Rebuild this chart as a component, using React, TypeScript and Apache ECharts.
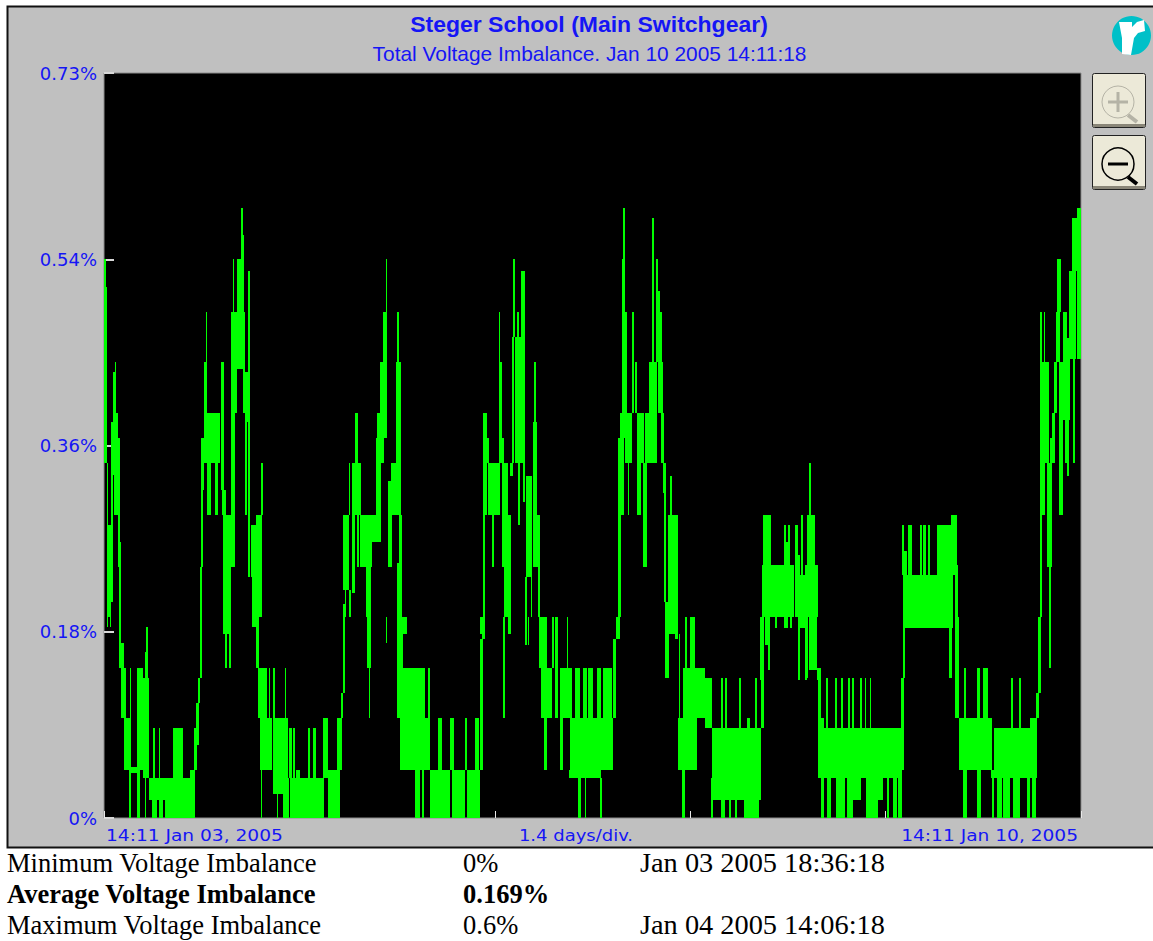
import React, { useEffect, useRef } from "react";
import * as echarts from "echarts";

// every run: [first sample, end sample, low %, high %] — one sample per display column
const mondayRuns = [
[0,2,.348,.548],[2,3,.348,.52],[3,4,.187,.348],[4,7,.197,.287],[6,7,.187,.287],[7,9,.212,.388],[9,10,.336,.437],[10,11,.297,.437],[11,12,.297,.447],[12,14,.297,.397],[14,15,.246,.372],[15,16,.197,.372],
[15,17,.147,.27],[17,20,.098,.171],[20,22,.047,.147],[22,27,.047,.098],[25,26,0,.047],[26,27,0,.147],[27,33,.044,.05],[33,36,0,.147],[36,39,.047,.147],[39,41,.039,.137],[41,42,.039,.163],[42,44,.039,.187],[44,45,.039,.137],[41,42,0,.039],
[45,48,.018,.039],[48,53,0,.039],[49,51,.039,.088],[53,55,.018,.039],[55,56,0,.088],[56,59,0,.039],[59,61,.018,.039],[61,69,0,.039],[69,79,0,.088],[79,90,0,.039],[86,91,0,.047],[90,93,.047,.088],[92,95,.072,.113],[94,96,.113,.137],[96,98,.137,.246],
];
const mondayPeak = [
[97,99,.246,.372],[98,100,.321,.372],[100,103,.348,.447],[102,103,.447,.496],[103,114,.348,.397],[103,107,.297,.348],[111,114,.297,.348],[114,116,.348,.397],[117,120,.321,.447],[118,122,.297,.321],[119,127,.18,.297],[121,123,.147,.18],[125,127,.147,.18],
[127,133,.397,.496],[129,130,.496,.548],[133,139,.44,.548],[137,140,.496,.571],[137,139,.571,.598],[133,137,.447,.496],[127,131,.246,.397],[141,144,.388,.437],[139,141,.397,.496],[144,146,.236,.536],[141,143,.297,.388],[147,152,.236,.287],[152,158,.197,.297],[157,159,.297,.348],[148,152,.187,.236],[152,155,.147,.197],
];
const tuesdayRuns = [
[154,163,.098,.147],[165,166,.098,.147],[169,171,.098,.147],[154,156,.098,.147],[156,168,.047,.098],[157,158,0,.047],[181,182,.053,.147],[169,184,.024,.098],[173,174,0,.024],[179,185,0,.039],[185,188,.039,.088],
[186,220,0,.039],[189,191,.039,.088],[192,196,0,.047],[204,206,.039,.088],[209,212,.039,.088],[219,224,.039,.098],[224,236,0,.047],[233,238,.047,.098],[237,239,.098,.122],[239,241,.122,.21],
];
const tuesdayPeak = [
[239,245,.223,.297],[241,242,.197,.223],[245,247,.197,.223],[245,246,.297,.348],[248,257,.297,.348],[251,254,.348,.397],[248,251,.22,.297],[253,255,.246,.297],[256,268,.246,.297],[262,267,.197,.246],[263,267,.147,.197],[265,266,.098,.147],
[268,272,.27,.297],[273,279,.372,.397],[276,280,.348,.447],[282,283,.447,.548],[279,283,.372,.496],[272,277,.27,.372],[284,288,.246,.33],[287,296,.297,.348],[292,297,.297,.447],[293,295,.447,.496],[295,298,.197,.297],[298,303,.18,.197],[282,283,.171,.197],[293,296,.098,.25],
];
const wednesdayRuns = [
[296,299,.147,.197],[296,313,.047,.147],[313,321,.047,.147],[324,326,.053,.147],[321,326,.047,.098],[311,313,0,.047],[313,316,0,.047],[318,320,0,.047],[326,346,0,.047],[334,338,.047,.098],[346,350,.047,.098],[348,361,0,.047],[361,363,.047,.098],[363,376,0,.047],[371,375,.047,.098],[376,379,.047,.175],[378,381,.175,.197],
];
const wednesdayPeak = [
[376,379,.18,.197],[379,381,.197,.297],[379,383,.297,.397],[383,385,.348,.372],[384,396,.297,.348],[388,390,.246,.297],[395,398,.348,.447],[395,396,.447,.496],[398,400,.246,.372],[400,404,.246,.348],[400,407,.197,.297],[406,409,.335,.348],[408,410,.348,.471],[409,411,.471,.548],[411,419,.348,.471],[413,415,.471,.496],[417,421,.447,.536],[414,416,.287,.388],[419,421,.31,.447],[422,428,.236,.335],[427,428,.197,.236],[421,423,.197,.236],[429,433,.246,.388],[430,432,.388,.447],[431,436,.246,.297],[434,436,.197,.246],[436,443,.18,.197],
[399,401,.098,.197],[404,407,.18,.197],[421,423,.17,.197],[424,425,.17,.197],
];
const thursdayRuns = [
[435,443,.147,.197],[437,448,.098,.147],[440,443,.047,.098],[448,450,.147,.197],[451,454,.098,.197],[456,468,.098,.147],[456,459,.047,.098],[463,464,.147,.197],[466,473,.039,.098],[471,509,.047,.098],[471,476,.098,.147],[479,483,.098,.147],[484,489,.098,.147],[493,497,.098,.147],[499,504,.098,.147],[504,508,.098,.147],[509,512,.098,.175],[512,516,.175,.197],[465,497,.039,.047],[474,477,0,.039],[481,482,0,.039],[496,498,0,.039],[498,509,.047,.05],
];
const thursdayPeak = [
[513,516,.18,.197],[514,517,.197,.297],[514,520,.297,.372],[516,521,.372,.397],[518,521,.397,.548],[519,521,.548,.598],[521,523,.348,.496],[523,528,.348,.397],[524,525,.297,.348],[528,530,.397,.496],[531,533,.397,.447],[533,540,.348,.397],[533,537,.297,.348],[539,543,.246,.348],[541,553,.348,.397],[545,553,.372,.447],[548,550,.447,.588],[552,554,.447,.548],[553,556,.447,.516],[555,558,.447,.496],[554,559,.397,.447],[557,560,.348,.397],[559,562,.318,.348],[560,562,.212,.318],[566,568,.287,.335],[564,574,.212,.297],[561,568,.197,.212],[568,574,.197,.297],
];
const fridayRuns = [
[561,573,.18,.197],[561,565,.137,.18],[571,574,.175,.197],[575,576,.088,.18],[574,593,.047,.098],[579,601,.098,.147],[581,583,.147,.197],[586,591,.147,.197],[578,581,0,.047],[601,608,.088,.137],[608,657,.018,.088],[617,619,.088,.137],[621,623,.088,.137],[635,637,.088,.137],[651,653,.088,.137],[643,646,.088,.098],[607,609,0,.039],[617,621,0,.018],[625,627,0,.018],[631,633,0,.018],[640,644,0,.018],[644,655,0,.02],[657,660,.088,.197],
];
const saturdayRuns = [
[656,660,.135,.197],[658,690,.197,.248],[659,667,.248,.297],[680,682,.248,.287],[684,686,.248,.287],[681,686,.248,.27],[691,714,.197,.238],[691,694,.238,.287],[694,696,.238,.258],[697,699,.238,.297],[701,714,.197,.248],[703,711,.248,.297],[705,707,.297,.348],[661,666,.17,.197],[664,666,.145,.17],[671,673,.186,.197],[680,684,.186,.197],[686,688,.186,.197],[694,701,.186,.197],[694,696,.135,.186],[701,703,.135,.197],[705,709,.145,.197],[709,713,.145,.197],[713,717,.135,.147],[702,704,.137,.197],
[714,717,.047,.147],[717,720,.047,.098],[720,797,.047,.088],[714,798,.039,.047],[722,724,.088,.137],[731,733,.088,.137],[737,739,.088,.137],[744,746,.088,.137],[748,750,.088,.137],[756,758,.088,.137],[761,762,.088,.137],[766,767,.088,.137],
[717,720,0,.039],[723,727,0,.039],[732,741,0,.039],[743,749,0,.039],[749,757,.018,.039],[762,774,0,.039],[774,779,.018,.039],[783,785,0,.039],[789,793,0,.039],[794,798,0,.039],[797,800,.047,.137],[799,801,.137,.197],
];
const sundayRuns = [
[798,800,.238,.287],[800,803,.238,.262],[799,849,.186,.238],[804,808,.238,.287],[816,818,.238,.287],[819,822,.238,.287],[824,826,.238,.287],[833,848,.238,.287],[847,853,.238,.297],[851,853,.19,.248],[845,848,.137,.186],[853,854,.135,.248],[851,855,.098,.197],
[855,888,.047,.098],[860,862,.098,.147],[873,876,.098,.147],[879,884,.098,.147],[859,863,0,.047],[873,877,0,.047],[890,926,.047,.088],[887,926,.039,.047],[907,909,.088,.137],[915,917,.088,.137],[926,933,.039,.098],[932,935,.098,.122],[934,937,.122,.197],[945,947,.147,.197],
[888,890,0,.039],[893,898,0,.039],[899,906,0,.039],[909,916,0,.039],[923,926,0,.039],[928,932,0,.039],
];
const mondayFinal = [
[934,936,.14,.197],[936,938,.197,.297],[936,941,.297,.447],[941,945,.348,.447],[936,938,.447,.496],[940,941,.447,.496],[943,948,.246,.348],[945,947,.197,.246],[946,951,.348,.372],[948,951,.372,.397],[950,953,.397,.447],[952,956,.447,.496],[953,957,.496,.548],[955,959,.297,.447],[959,963,.397,.496],[959,966,.39,.47],[961,963,.348,.397],[963,965,.335,.39],[965,972,.45,.536],[968,973,.536,.588],[969,971,.348,.45],[973,977,.45,.598],[968,977,.54,.588],
];

const yTickLabels = ["0%", "0.18%", "0.36%", "0.54%", "0.73%"];
const yMax = 0.73;
const sampleCount = 977;
const titleText = "Steger School (Main Switchgear)";
const subtitleText = "Total Voltage Imbalance. Jan 10 2005 14:11:18";
const xLabels = ["14:11 Jan 03, 2005", "1.4 days/div.", "14:11 Jan 10, 2005"];
const statRows = [
  ["Minimum Voltage Imbalance", "0%", "Jan 03 2005 18:36:18"],
  ["Average Voltage Imbalance", "0.169%", ""],
  ["Maximum Voltage Imbalance", "0.6%", "Jan 04 2005 14:06:18"],
];

const BLUE = "#1515f5";
const SANS = "'DejaVu Sans'";
const ARIAL = "'Liberation Sans'";
const SERIF = "'Liberation Serif'";

function button(y: number, plus: boolean) {
  const ink = plus ? "#b5b3a6" : "#000";
  const cx = 1118;
  const cy = y + 29;
  const items: any[] = [
    { type: "rect", shape: { x: 1092.5, y: y + 0.5, width: 53, height: 54, r: 2 }, style: { fill: "#ece9d8", stroke: "#222", lineWidth: 1 } },
    { type: "rect", shape: { x: 1093, y: y + 51, width: 52, height: 3 }, style: { fill: "#8a8678" } },
    { type: "circle", shape: { cx, cy, r: 16 }, style: { fill: "none", stroke: ink, lineWidth: plus ? 1 : 1.5 } },
    { type: "line", shape: { x1: cx + 10, y1: cy + 13, x2: cx + 19, y2: cy + 20 }, style: { stroke: plus ? "#b5b3a6" : "#000", lineWidth: 4 } },
    { type: "line", shape: { x1: cx - 10, y1: cy, x2: cx + 10, y2: cy }, style: { stroke: plus ? "#b5b3a6" : "#000", lineWidth: 3 } },
  ];
  if (plus) items.push({ type: "line", shape: { x1: cx, y1: cy - 10, x2: cx, y2: cy + 10 }, style: { stroke: "#b5b3a6", lineWidth: 3 } });
  return items;
}

export default function App() {
  const ref = useRef<HTMLDivElement>(null);
  useEffect(() => {
    const chart = echarts.init(ref.current!, null, { renderer: "svg" });
    const runs = [
      ...mondayRuns, ...mondayPeak, ...tuesdayRuns, ...tuesdayPeak, ...wednesdayRuns, ...wednesdayPeak,
      ...thursdayRuns, ...thursdayPeak, ...fridayRuns, ...saturdayRuns, ...sundayRuns, ...mondayFinal,
    ];
    const graphic: any[] = [
      { type: "rect", silent: true, z: -1, shape: { x: 7.5, y: 6.5, width: 1150, height: 841 }, style: { fill: "#c0c0c0", stroke: "#111", lineWidth: 2 } },
      { type: "text", x: 589, y: 25, scaleX: 1.07, style: { text: titleText, fill: BLUE, font: `bold 21.5px ${ARIAL}`, align: "center", verticalAlign: "middle" } },
      { type: "text", x: 589.5, y: 54, scaleX: 1.045, style: { text: subtitleText, fill: BLUE, font: `20px ${ARIAL}`, align: "center", verticalAlign: "middle" } },
      { type: "text", x: 106, y: 836, scaleX: 1.2, style: { text: xLabels[0], fill: BLUE, font: `15.5px ${SANS}`, align: "left", verticalAlign: "middle" } },
      { type: "text", x: 576, y: 836, scaleX: 1.2, style: { text: xLabels[1], fill: BLUE, font: `15px ${SANS}`, align: "center", verticalAlign: "middle" } },
      { type: "text", x: 1078, y: 836, scaleX: 1.2, style: { text: xLabels[2], fill: BLUE, font: `15.5px ${SANS}`, align: "right", verticalAlign: "middle" } },
      { type: "circle", shape: { cx: 1131.5, cy: 35.5, r: 19.5 }, style: { fill: "#00c0c8" } },
      { type: "polygon", shape: { points: [[1119, 22], [1132, 22], [1132, 27], [1137, 22], [1144, 20], [1145, 31], [1138, 33], [1134, 38], [1131, 55], [1122, 54], [1122, 38]] }, style: { fill: "#fff" } },
      ...button(73, true),
      ...button(135, false),
    ];
    statRows.forEach((row, i) => {
      const y = 863 + i * 31;
      const weight = i === 1 ? "bold " : "";
      [7, 463, 640].forEach((x, j) => {
        if (row[j]) graphic.push({ type: "text", x, y, scaleX: j === 2 ? 1.07 : 1, style: { text: row[j], fill: "#000", font: `${weight}26.5px ${SERIF}`, align: "left", verticalAlign: "middle" } });
      });
    });
    chart.setOption({
      animation: false,
      backgroundColor: "#fff",
      grid: { left: 104, top: 73, width: 977, height: 745, show: true, backgroundColor: "#000", borderColor: "#8c8c8c", borderWidth: 1 },
      xAxis: {
        type: "value", min: 0, max: sampleCount, interval: sampleCount / 5,
        axisLine: { show: false },
        axisTick: { show: true, inside: true, length: 7, lineStyle: { color: "#e8e8e8", width: 1 } },
        axisLabel: { show: false }, splitLine: { show: false },
      },
      yAxis: {
        type: "value", min: 0, max: yMax, interval: yMax / 4,
        axisLine: { show: false },
        axisTick: { show: true, inside: true, length: 10, lineStyle: { color: "#d8d8d8", width: 2 } },
        axisLabel: {
          show: true, margin: 7, color: BLUE, fontFamily: "DejaVu Sans", fontSize: 18,
          formatter: (v: number) => yTickLabels[Math.round(v / (yMax / 4))] ?? "",
        },
        splitLine: { show: false },
      },
      graphic,
      series: [{
        type: "custom", silent: true, clip: true,
        data: runs,
        encode: { x: [0, 1], y: [2, 3] },
        renderItem: (_: any, api: any) => {
          const p0 = api.coord([api.value(0), api.value(3)]);
          const p1 = api.coord([api.value(1), api.value(2)]);
          const x = Math.round(p0[0]);
          const y = Math.round(p0[1]);
          return { type: "rect", shape: { x, y, width: Math.round(p1[0]) - x, height: Math.round(p1[1]) - y }, style: { fill: "#00ff00" } };
        },
      }],
    });
    return () => chart.dispose();
  }, []);
  return <div ref={ref} style={{ position: "absolute", left: 0, top: 0, width: 1153, height: 941 }} />;
}
